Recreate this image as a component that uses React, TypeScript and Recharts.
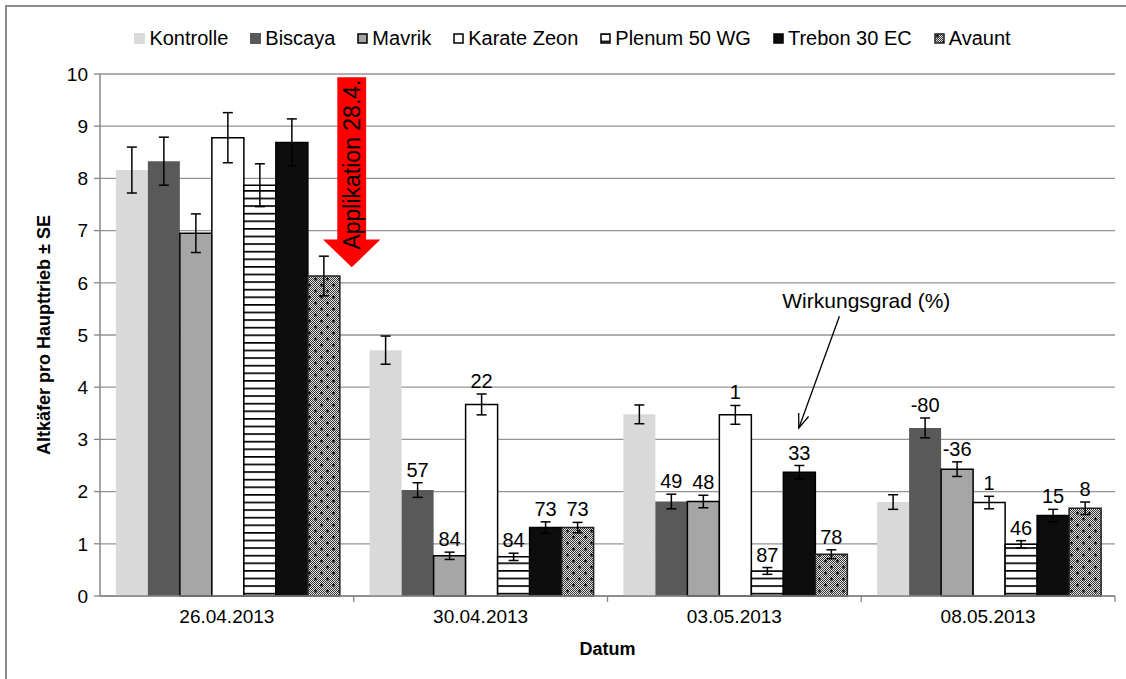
import {
  Bar,
  BarChart,
  CartesianGrid,
  ErrorBar,
  LabelList,
  Legend,
  ReferenceArea,
  XAxis,
  YAxis
} from 'recharts'

const FONT = '"Liberation Sans", Arial, sans-serif'
const GRID = '#949494'
const AXIS = '#868686'

const DATES = ['26.04.2013', '30.04.2013', '03.05.2013', '08.05.2013']
const Y_TICKS = [0, 1, 2, 3, 4, 5, 6, 7, 8, 9, 10]

// mean beetles per main shoot, standard error, and efficacy (Wirkungsgrad %) per date
const KONTROLLE = [8.16, 4.71, 3.48, 1.8]
const KONTROLLE_SE = [0.44, 0.27, 0.18, 0.14]

const BISCAYA = [8.33, 2.03, 1.81, 3.22]
const BISCAYA_SE = [0.46, 0.14, 0.14, 0.19]
const BISCAYA_WG = ['', '57', '49', '-80']

const MAVRIK = [6.95, 0.77, 1.81, 2.43]
const MAVRIK_SE = [0.37, 0.07, 0.12, 0.14]
const MAVRIK_WG = ['', '84', '48', '-36']

const KARATE = [8.78, 3.67, 3.47, 1.79]
const KARATE_SE = [0.48, 0.2, 0.18, 0.12]
const KARATE_WG = ['', '22', '1', '1']

const PLENUM = [7.87, 0.75, 0.48, 0.99]
const PLENUM_SE = [0.41, 0.07, 0.065, 0.07]
const PLENUM_WG = ['', '84', '87', '46']

const TREBON = [8.69, 1.31, 2.37, 1.54]
const TREBON_SE = [0.45, 0.11, 0.13, 0.12]
const TREBON_WG = ['', '73', '33', '15']

const AVAUNT = [6.13, 1.31, 0.8, 1.68]
const AVAUNT_SE = [0.38, 0.1, 0.085, 0.12]
const AVAUNT_WG = ['', '73', '78', '8']

// annotation spans (data units)
const APPLICATION_TOP = 9.94
const APPLICATION_TIP = 6.3
const POINTER_TEXT_Y = 5.67
const POINTER_TIP_Y = 3.22

type Series = {
  key: string
  name: string
  values: number[]
  se: number[]
  wg: string[] | null
  fill: string
  stroke: string
}

const SERIES: Series[] = [
  { key: 'kontrolle', name: 'Kontrolle', values: KONTROLLE, se: KONTROLLE_SE, wg: null, fill: '#d9d9d9', stroke: 'none' },
  { key: 'biscaya', name: 'Biscaya', values: BISCAYA, se: BISCAYA_SE, wg: BISCAYA_WG, fill: '#595959', stroke: 'none' },
  { key: 'mavrik', name: 'Mavrik', values: MAVRIK, se: MAVRIK_SE, wg: MAVRIK_WG, fill: '#a6a6a6', stroke: '#000' },
  { key: 'karate', name: 'Karate Zeon', values: KARATE, se: KARATE_SE, wg: KARATE_WG, fill: '#ffffff', stroke: '#000' },
  { key: 'plenum', name: 'Plenum 50 WG', values: PLENUM, se: PLENUM_SE, wg: PLENUM_WG, fill: 'url(#plenumStripes)', stroke: '#000' },
  { key: 'trebon', name: 'Trebon 30 EC', values: TREBON, se: TREBON_SE, wg: TREBON_WG, fill: '#0d0d0d', stroke: '#000' },
  { key: 'avaunt', name: 'Avaunt', values: AVAUNT, se: AVAUNT_SE, wg: AVAUNT_WG, fill: 'url(#avauntDots)', stroke: '#222' }
]

const data = DATES.map((date, i) => {
  const row: Record<string, string | number> = { date }
  SERIES.forEach((s) => {
    row[s.key] = s.values[i]
    row[`${s.key}Se`] = s.se[i]
    row[`${s.key}Wg`] = s.wg ? s.wg[i] : ''
  })
  return row
})

// efficacy label sits just above the error bar cap
function efficacyLabel(s: Series) {
  return (props: any) => {
    const vb = props.viewBox ?? props
    const { x, y, width, height } = vb
    const value = props.value
    if (value === '' || value == null) return null
    const i = props.index
    const pxPerUnit = height / s.values[i]
    const capTop = y - s.se[i] * pxPerUnit
    return (
      <text x={x + width / 2} y={capTop - 6} textAnchor="middle" fontSize={20} fontFamily={FONT} fill="#000">
        {value}
      </text>
    )
  }
}

// small tick mark below the axis at the right edge of a category band
function BoundaryTick(props: any) {
  const { x, y, width, height } = props
  const base = y + height
  return <line x1={x + width} x2={x + width} y1={base} y2={base + 6} stroke={AXIS} strokeWidth={1.3} />
}

function LegendContent() {
  return (
    <div
      style={{
        display: 'flex',
        justifyContent: 'center',
        gap: 22,
        height: 24,
        alignItems: 'center',
        fontFamily: FONT,
        fontSize: 20,
        color: '#000'
      }}
    >
      {SERIES.map((s) => (
        <span key={s.key} style={{ display: 'flex', alignItems: 'center' }}>
          <svg width={11} height={11} style={{ marginRight: 4 }}>
            <rect
              x={s.stroke === 'none' ? 0 : 1}
              y={s.stroke === 'none' ? 0 : 1}
              width={s.stroke === 'none' ? 11 : 9}
              height={s.stroke === 'none' ? 11 : 9}
              fill={s.fill}
              stroke={s.stroke}
              strokeWidth={1.5}
            />
          </svg>
          {s.name}
        </span>
      ))}
    </div>
  )
}

// area runs across groups 1 and 2; arrow sits on their boundary
function ApplicationArrow(props: any) {
  const { x, y, width, height } = props
  const cx = x + width * 0.496
  const head = width * 0.1135
  const shaft = width * 0.0568
  const headH = height * 0.145
  const neck = y + height - headH
  const pts = [
    [cx - shaft / 2, y],
    [cx + shaft / 2, y],
    [cx + shaft / 2, neck],
    [cx + head / 2, neck],
    [cx, y + height],
    [cx - head / 2, neck],
    [cx - shaft / 2, neck]
  ]
    .map((p) => p.join(','))
    .join(' ')
  const ty = y + height * 0.46
  return (
    <g>
      <polygon points={pts} fill="#ff0000" />
      <text
        x={cx}
        y={ty}
        transform={`rotate(-90, ${cx}, ${ty})`}
        textAnchor="middle"
        dominantBaseline="central"
        fontSize={23}
        fontFamily={FONT}
        fill="#000"
      >
        Applikation 28.4.
      </text>
    </g>
  )
}

// area runs across groups 3 and 4
function EfficacyPointer(props: any) {
  const { x, y, width, height } = props
  const tx = x + width * 0.51
  const x1 = x + width * 0.457
  const y1 = y + height * 0.127
  const x2 = x + width * 0.377
  const y2 = y + height
  const a = Math.atan2(y2 - y1, x2 - x1)
  const len = 15
  const spread = 0.36
  const h1 = [x2 - len * Math.cos(a - spread), y2 - len * Math.sin(a - spread)]
  const h2 = [x2 - len * Math.cos(a + spread), y2 - len * Math.sin(a + spread)]
  return (
    <g>
      <text x={tx} y={y} textAnchor="middle" dominantBaseline="central" fontSize={21} fontFamily={FONT} fill="#000">
        Wirkungsgrad (%)
      </text>
      <g stroke="#000" strokeWidth={1.3} fill="none">
        <line x1={x1} y1={y1} x2={x2} y2={y2} />
        <polyline points={`${h1.join(',')} ${x2},${y2} ${h2.join(',')}`} />
      </g>
    </g>
  )
}

export default function App() {
  return (
    <div style={{ position: 'absolute', left: 0, top: 0, width: 1126, height: 679, overflow: 'hidden', background: '#fff' }}>
      <div
        style={{
          position: 'absolute',
          left: 5,
          top: 5,
          width: 1300,
          height: 800,
          borderTop: '2px solid #8c8c8c',
          borderLeft: '2px solid #8c8c8c'
        }}
      />
      <BarChart
        width={1126}
        height={679}
        data={data}
        margin={{ top: 50, right: 11, left: 30, bottom: 23 }}
        barCategoryGap="6.25%"
        barGap={0}
        style={{ fontFamily: FONT }}
      >
        <defs>
          <pattern id="plenumStripes" patternUnits="userSpaceOnUse" width={8} height={7.6}>
            <rect width={8} height={7.6} fill="#fff" />
            <rect y={0} width={8} height={1.7} fill="#000" />
          </pattern>
          <pattern id="checker" patternUnits="userSpaceOnUse" width={2} height={2}>
            <rect width={2} height={2} fill="#e6e6e6" />
            <rect width={1} height={1} fill="#333" />
            <rect x={1} y={1} width={1} height={1} fill="#333" />
          </pattern>
          <pattern id="avauntDots" patternUnits="userSpaceOnUse" width={12} height={12}>
            <rect width={12} height={12} fill="url(#checker)" />
            <path d="M2 3h3M3.5 1.5v3M8 9h3M9.5 7.5v3" stroke="#000" strokeWidth={1.2} />
          </pattern>
        </defs>
        <CartesianGrid vertical={false} stroke={GRID} strokeWidth={1.3} />
        <XAxis
          dataKey="date"
          axisLine={{ stroke: AXIS, strokeWidth: 1.5 }}
          tickLine={false}
          tick={{ fill: '#000', fontSize: 19, fontFamily: FONT }}
          tickSize={6}
          tickMargin={8}
          height={60}
          label={{
            content: (p: any) => {
              const vb = p.viewBox
              return (
                <text
                  x={vb.x + vb.width / 2}
                  y={vb.y + vb.height - 1}
                  textAnchor="middle"
                  fontSize={18}
                  fontWeight="bold"
                  fontFamily={FONT}
                  fill="#000"
                >
                  Datum
                </text>
              )
            }
          }}
        />
        <YAxis
          domain={[0, 10]}
          ticks={Y_TICKS}
          width={70}
          axisLine={{ stroke: AXIS, strokeWidth: 1.5 }}
          tickLine={{ stroke: AXIS, strokeWidth: 1.3 }}
          tickSize={6}
          tickMargin={6}
          tick={{ fill: '#000', fontSize: 19, fontFamily: FONT }}
          label={{
            content: (p: any) => {
              const vb = p.viewBox
              const lx = vb.x + 14
              const ly = vb.y + vb.height / 2
              return (
                <text
                  x={lx}
                  y={ly}
                  transform={`rotate(-90, ${lx}, ${ly})`}
                  textAnchor="middle"
                  dominantBaseline="central"
                  fontSize={18}
                  fontWeight="bold"
                  fontFamily={FONT}
                  fill="#000"
                >
                  Altkäfer pro Haupttrieb ± SE
                </text>
              )
            }
          }}
        />
        <Legend verticalAlign="top" align="center" content={<LegendContent />} wrapperStyle={{ top: 26 }} />
        {SERIES.map((s) => (
          <Bar
            key={s.key}
            dataKey={s.key}
            name={s.name}
            fill={s.fill}
            stroke={s.stroke}
            strokeWidth={s.stroke === 'none' ? 0 : 1.5}
            isAnimationActive={false}
          >
            <ErrorBar dataKey={`${s.key}Se`} width={5} stroke="#000" strokeWidth={1.5} direction="y" />
            {s.wg && <LabelList dataKey={`${s.key}Wg`} content={efficacyLabel(s)} />}
          </Bar>
        ))}
        {DATES.map((d) => (
          <ReferenceArea key={d} x1={d} x2={d} y1={0} y2={0.1} ifOverflow="visible" shape={<BoundaryTick />} />
        ))}
        <ReferenceArea
          x1={DATES[0]}
          x2={DATES[1]}
          y1={APPLICATION_TIP}
          y2={APPLICATION_TOP}
          ifOverflow="visible"
          shape={<ApplicationArrow />}
        />
        <ReferenceArea
          x1={DATES[2]}
          x2={DATES[3]}
          y1={POINTER_TIP_Y}
          y2={POINTER_TEXT_Y}
          ifOverflow="visible"
          shape={<EfficacyPointer />}
        />
      </BarChart>
    </div>
  )
}
